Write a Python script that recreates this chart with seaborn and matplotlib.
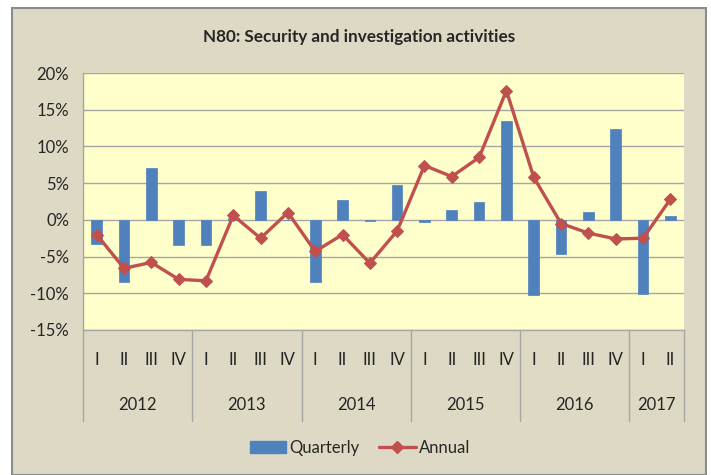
import matplotlib.pyplot as plt
from matplotlib.patches import Rectangle
from matplotlib.lines import Line2D
from matplotlib.patches import Patch
import matplotlib.transforms as mtransforms

import seaborn as sns

import numpy as np
import pandas as pd


years = ['2012', '2013', '2014', '2015', '2016', '2017']
quarters_per_year = [4, 4, 4, 4, 4, 2]
quarter_names = ['I', 'II', 'III', 'IV']

quarterly = [-3.3, -8.4, 7.1, -3.4,
             -3.4, 0.2, 3.9, 0.0,
             -8.5, 2.7, -0.2, 4.8,
             -0.3, 1.3, 2.4, 13.4,
             -10.3, -4.7, 1.1, 12.4,
             -10.1, 0.5]
annual = [-2.0, -6.6, -5.8, -8.1,
          -8.3, 0.6, -2.5, 1.0,
          -4.3, -2.0, -5.9, -1.5,
          7.4, 5.9, 8.5, 17.6,
          5.8, -0.5, -1.8, -2.6,
          -2.5, 2.8]

y_ticks = [-15, -10, -5, 0, 5, 10, 15, 20]

labels = []
for y, n in zip(years, quarters_per_year):
    labels += quarter_names[:n]

df = pd.DataFrame({'pos': range(len(quarterly)), 'Quarterly': quarterly, 'Annual': annual})

sns.set_style('white')
plt.rcParams['font.family'] = ['Lato', 'DejaVu Sans']

fig = plt.figure(figsize=(7.11, 4.75), dpi=100)
fig.patch.set_facecolor('white')

# outer chart area
fig.patches.append(Rectangle((12 / 711, 0), 694 / 711, 1 - 8 / 475, transform=fig.transFigure,
                             facecolor='#DDD9C4', edgecolor='#8C8C8C', linewidth=1.5, zorder=-10))

ax = fig.add_axes([83 / 711, 1 - 330 / 475, (684 - 83) / 711, (330 - 73) / 475])
ax.set_facecolor('#FFFFCC')

sns.barplot(data=df, x='pos', y='Quarterly', native_scale=True, width=0.39,
            color='#4F81BD', saturation=1, edgecolor='#4F81BD', linewidth=0.5, ax=ax, zorder=2)
sns.lineplot(data=df, x='pos', y='Annual', color='#C0504D', linewidth=2.4,
             marker='D', markersize=6.5, markeredgecolor='#C0504D', ax=ax, zorder=3)

ax.set_xlim(-0.5, len(quarterly) - 0.5)
ax.set_ylim(-15, 20)
ax.set_yticks(y_ticks)
ax.set_yticklabels([f'{t}%' for t in y_ticks], fontsize=12)
ax.tick_params(axis='y', length=0, pad=10)
ax.set_xticks([])
ax.set_xlabel('')
ax.set_ylabel('')
ax.grid(axis='y', color='#A6A6A6', linewidth=1)
ax.set_axisbelow(True)
for s in ['top', 'right']:
    ax.spines[s].set_visible(False)
for s in ['left', 'bottom']:
    ax.spines[s].set_color('#A6A6A6')
    ax.spines[s].set_linewidth(1)

# two level category axis
trans = mtransforms.blended_transform_factory(ax.transData, ax.transAxes)
for i, lab in enumerate(labels):
    ax.text(i, -0.117, lab, transform=trans, ha='center', va='center', fontsize=12)

start = -0.5
bounds = [start]
for y, n in zip(years, quarters_per_year):
    ax.text(start + n / 2, -0.292, y, transform=trans, ha='center', va='center', fontsize=12)
    start += n
    bounds.append(start)
for b in bounds:
    ax.plot([b, b], [0, -0.354], transform=trans, color='#A6A6A6', linewidth=1, clip_on=False)

fig.text(359 / 711, 1 - 37 / 475, 'N80: Security and investigation activities',
         ha='center', va='center', fontsize=12.3, fontweight='bold')

handles = [Patch(facecolor='#4F81BD', edgecolor='#4F81BD', label='Quarterly'),
           Line2D([0], [0], color='#C0504D', linewidth=2.4, marker='D', markersize=6.5, label='Annual')]
fig.legend(handles=handles, loc='center', bbox_to_anchor=(360 / 711, 1 - 448 / 475), ncol=2,
           frameon=False, fontsize=12, handlelength=2.2, handletextpad=0.2, columnspacing=1.15)

fig.savefig('out.png', dpi=100)
